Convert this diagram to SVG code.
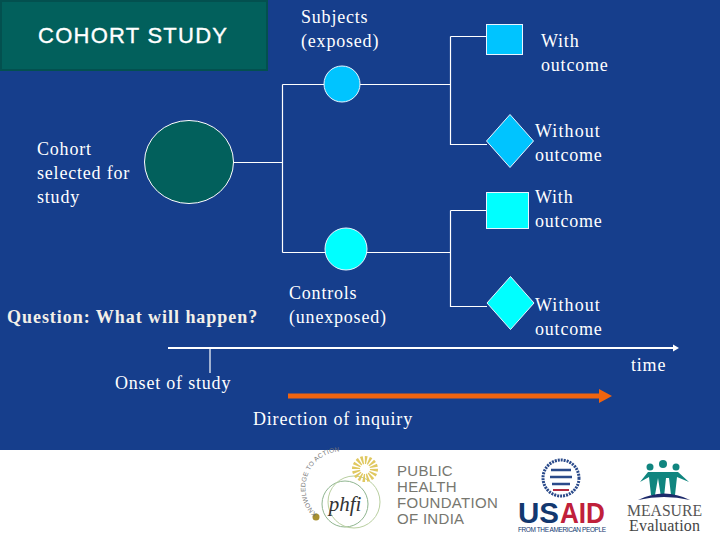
<svg xmlns="http://www.w3.org/2000/svg" width="720" height="540" viewBox="0 0 720 540">
<style>
.t{font-family:"Liberation Serif","Times New Roman",serif;font-size:18px;fill:#fff;letter-spacing:.8px}
.w{letter-spacing:1.1px}
.c{fill:none;stroke:#fff;stroke-width:1.2}
.n{stroke:#e8f4ff;stroke-width:1}
.b{fill:#00c4ff}.a{fill:#00ffff}
</style>
<defs><path id="ring" d="M317 514A36 36 0 0 1 366 461"/></defs>
<rect width="720" height="540" fill="#fff"/>
<rect width="720" height="450" fill="#163e8c"/>
<g id="title"><rect x="1" y="1" width="266" height="69" fill="#02605c" stroke="#03504f" stroke-width="2"/>
<text x="38" y="43" font-family="Liberation Sans,Arial,sans-serif" font-size="22" fill="#fff" stroke="#fff" stroke-width=".35" letter-spacing="1.25">COHORT STUDY</text></g>
<g id="connectors">
<path class="c" d="M234 162.500H282.500M282.500 84.500V252.500M282.500 84.500H325M282.500 252.500H327M360 84.500H450.500M450.500 36.500H487M450.500 36.500V144.500H487"/>
<path class="c" d="M366 252.500H450.500M450.500 210.500H487M450.500 210.500V306.500H487"/>
<path d="M210 349V373" class="c"/>
<path d="M168 348H673" stroke="#fff" stroke-width="2" fill="none"/>
<path d="M673 344.500L679 348L673 351.500Z" fill="#fff"/>
</g>
<g id="cohort"><ellipse cx="189" cy="162" rx="44.500" ry="41.500" fill="#02605c" stroke="#fff"/>
<text class="t" x="37" y="155">Cohort</text><text class="t" x="37" y="179">selected for</text><text class="t" x="37" y="203">study</text></g>
<g id="exposed"><circle class="n b" cx="342" cy="84" r="18"/>
<text class="t" x="301" y="23">Subjects</text><text class="t" x="301" y="47">(exposed)</text></g>
<g id="controls"><circle class="n a" cx="346" cy="249" r="21"/>
<text class="t" x="289" y="299">Controls</text><text class="t" x="289" y="323">(unexposed)</text></g>
<g id="exp-with"><rect class="n b" x="486.500" y="24.500" width="36" height="30"/>
<text class="t" x="541" y="47">With</text><text class="t" x="541" y="71">outcome</text></g>
<g id="exp-without"><path class="n b" d="M510 114.500L533.500 141L510 167.500L486.500 141Z"/>
<text class="t w" x="535" y="137">Without</text><text class="t" x="535" y="161">outcome</text></g>
<g id="ctl-with"><rect class="n a" x="486.500" y="192.500" width="42" height="36"/>
<text class="t" x="535" y="203">With</text><text class="t" x="535" y="227">outcome</text></g>
<g id="ctl-without"><path class="n a" d="M510.500 276.500L534 303L510.500 329.500L487 303Z"/>
<text class="t w" x="535" y="311">Without</text><text class="t" x="535" y="335">outcome</text></g>
<g id="labels">
<text class="t" x="7" y="323" font-weight="bold" style="fill:#f4f0e8;letter-spacing:.96px">Question: What will happen?</text>
<text class="t" x="115" y="389">Onset of study</text>
<text class="t" x="631" y="371">time</text>
<text class="t" x="253" y="425">Direction of inquiry</text>
</g>
<g id="inquiry-arrow"><path d="M288 393.500H599V389L612 396L599 403V398.500H288Z" fill="#f0640f"/></g>
<g id="logos">
<g fill="none" stroke-width="1"><circle cx="345" cy="504" r="23" stroke="#8fb58f"/><circle cx="354" cy="502" r="26" stroke="#b9cfa0"/></g>
<circle cx="365" cy="469" r="9" fill="none" stroke="#e0c860" stroke-width="8" stroke-dasharray="2 1.500"/>
<circle cx="316" cy="517" r="3.500" fill="#a89030"/>
<text font-family="Liberation Sans,Arial,sans-serif" font-size="6.500" fill="#777" letter-spacing=".3"><textPath href="#ring">KNOWLEDGE TO ACTION</textPath></text>
<text x="345" y="511" font-family="Liberation Serif,serif" font-style="italic" font-size="21" fill="#333" text-anchor="middle">phfi</text>
<g font-family="Liberation Sans,Arial,sans-serif" font-size="15" fill="#77776f" letter-spacing=".3"><text x="397" y="476">PUBLIC</text><text x="397" y="492">HEALTH</text><text x="397" y="508">FOUNDATION</text><text x="397" y="524">OF INDIA</text></g>
<circle cx="561" cy="478" r="18" fill="#fff" stroke="#2a4a8a" stroke-width="3" stroke-dasharray="2 1"/>
<path d="M551 470H571M550 477H572M552 484H570" stroke="#2a4a8a" stroke-width="2.500"/>
<path d="M553 490H569" stroke="#b02a40" stroke-width="2"/>
<text x="518" y="523" font-family="Liberation Sans,Arial,sans-serif" font-weight="bold" font-size="29" textLength="41" lengthAdjust="spacingAndGlyphs" fill="#13386f">US</text>
<text x="560" y="523" font-family="Liberation Sans,Arial,sans-serif" font-weight="bold" font-size="29" textLength="45" lengthAdjust="spacingAndGlyphs" fill="#c0203a">AID</text>
<text x="518" y="531.500" font-family="Liberation Sans,Arial,sans-serif" font-size="6.500" textLength="88" fill="#13386f">FROM THE AMERICAN PEOPLE</text>
<g fill="#10857f"><circle cx="663" cy="464" r="4"/><circle cx="650" cy="467" r="3.500"/><circle cx="676" cy="467" r="3.500"/>
<path d="M640 482L648 472H678L689 482L677 477L675 495H671L669 478H666L664 497H661L658 478L655 495H651L649 477Z"/></g>
<path d="M638 500Q664 487 690 500Q664 494 638 500Z" fill="#1d2a6a"/>
<text x="627" y="516" font-family="Liberation Serif,serif" font-size="16" textLength="75" lengthAdjust="spacingAndGlyphs" fill="#555">MEASURE</text>
<text x="629" y="531" font-family="Liberation Serif,serif" font-size="16" textLength="71" fill="#444">Evaluation</text>
</g>
</svg>
